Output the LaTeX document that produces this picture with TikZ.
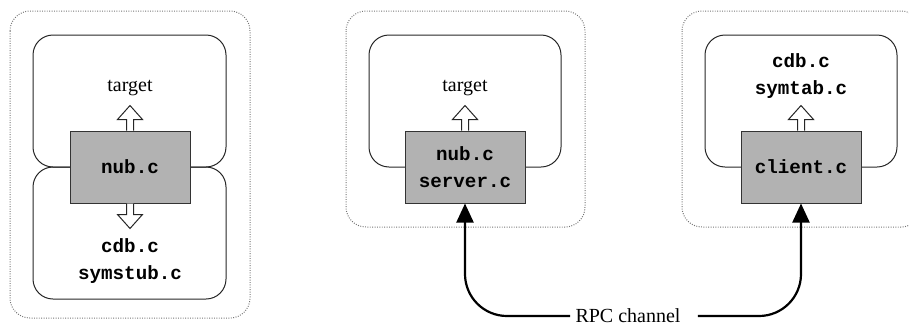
\documentclass[tikz,border=0pt]{standalone}
\usepackage{fontspec}
\setmainfont{Liberation Serif}
\setmonofont{Liberation Mono}
\usetikzlibrary{calc}
\usetikzlibrary{arrows.meta}

\begin{document}
\begin{tikzpicture}[x=0.5pt,y=-0.5pt,
        srcbox/.style={draw=black!80,line width=0.5pt,fill=black!30,minimum width=60pt,minimum height=36pt,inner sep=0pt,align=center,font=\ttfamily\bfseries\fontsize{9.6}{13.5}\selectfont},
        host/.style={draw=black!55,line width=0.5pt,dash pattern=on 0.45pt off 0.75pt,rounded corners=10pt},
        region/.style={draw=black!85,line width=0.5pt,rounded corners=10pt},
        hollow/.style={draw=black!85,line width=0.5pt,fill=white},
        txt/.style={inner sep=2.5pt,font=\fontsize{10}{12}\selectfont},
        files/.style={align=center,font=\ttfamily\bfseries\fontsize{9.6}{13.5}\selectfont},
        rpc/.style={line width=1.1pt,rounded corners=21pt,-{Triangle[length=9.5pt,width=8.5pt]}}]
        \useasboundingbox (0,0) rectangle (909,322);
        \clip (0,0) rectangle (909,322);

        % hosts
        \draw[host] (10,11) rectangle (250,318);
        \draw[host] (346,11) rectangle (585,227);
        \draw[host] (682,11) rectangle (921,227);

        % address spaces
        \draw[region] (33,35) rectangle (226,167);
        \draw[region] (33,167) rectangle (226,299);
        \draw[region] (369,35) rectangle (561,167);
        \draw[region] (705,35) rectangle (897,167);

        % sources
        \node[srcbox] (nub) at (130,167) {nub.c};
        \node[srcbox] (srv) at (465,167) {nub.c\\server.c};
        \node[srcbox] (cli) at (801,167) {client.c};

        \node[txt] (tgtL) at (130,88) {target};
        \node[txt] (tgtS) at (465,88) {target};
        \node[files] (stub) at (130,261) {cdb.c\\symstub.c};
        \node[files] (tab) at (801,76) {cdb.c\\symtab.c};

        % links inside the hosts
        \foreach \n in {nub,srv,cli}
            \draw[hollow] (\n.north) ++(-3.5,0) -- ++(0,-11) -- ++(-9,0) -- ++(12.5,-14) -- ++(12.5,14) -- ++(-9,0) -- ++(0,11);
        \draw[hollow] (nub.south) ++(-3.5,0) -- ++(0,11) -- ++(-9,0) -- ++(12.5,14) -- ++(12.5,-14) -- ++(-9,0) -- ++(0,-11);

        % rpc channel
        \node[txt] (chan) at (628,316) {RPC channel};
        \draw[rpc] (chan.west) -| (srv.south);
        \draw[rpc] ($(chan.east)+(12,0)$) -| (cli.south);
    \end{tikzpicture}
\end{document}
